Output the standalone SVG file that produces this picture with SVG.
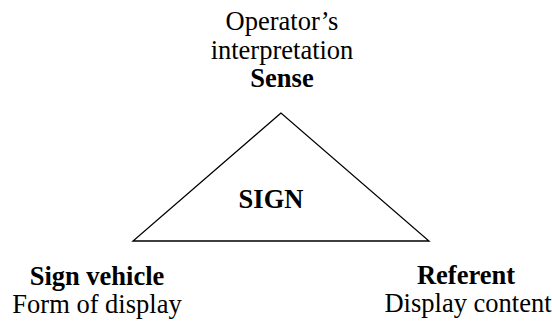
<svg xmlns="http://www.w3.org/2000/svg" width="552" height="325" viewBox="0 0 552 325">
<style>
text{font-family:'Liberation Serif','Times New Roman',serif;font-size:26.5px;fill:#000;text-anchor:middle}
.b{font-weight:bold}
.tri{fill:none;stroke:#000;stroke-width:1.3}
</style>
<rect width="552" height="325" fill="#fff"/>
<g id="connectors">
<polygon class="tri" points="281,113 133,241 429,241"/>
</g>
<g id="sense">
<text x="282" y="30">Operator’s</text>
<text x="282" y="59">interpretation</text>
<text x="282" y="87" class="b">Sense</text>
</g>
<g id="sign">
<text x="271" y="208" class="b">SIGN</text>
</g>
<g id="sign-vehicle">
<text x="97" y="285" class="b">Sign vehicle</text>
<text x="97" y="313">Form of display</text>
</g>
<g id="referent">
<text x="466" y="284" class="b">Referent</text>
<text x="468" y="312">Display content</text>
</g>
</svg>
